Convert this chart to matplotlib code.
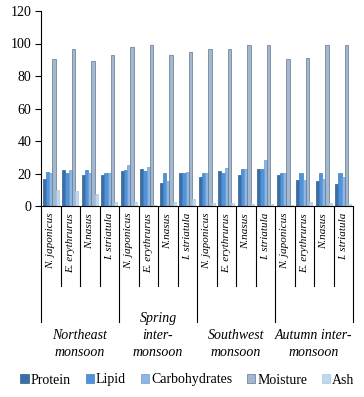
import matplotlib
matplotlib.use("Agg")
import matplotlib.pyplot as plt
from matplotlib.patches import Patch
import matplotlib.transforms as mtransforms
import numpy as np

plt.rcParams['font.family'] = ['Liberation Serif', 'DejaVu Serif']

species = ['N. japonicus', 'E. erythrurus', 'N.nasus', 'I. striatula']
seasons = ['Northeast\nmonsoon', 'Spring\ninter-\nmonsoon',
           'Southwest\nmonsoon', 'Autumn inter-\nmonsoon']
components = ['Protein', 'Lipid', 'Carbohydrates', 'Moisture', 'Ash']

# values per category (season x species), order follows the x axis
protein = [16.4, 22.0, 19.3, 18.9, 21.4, 23.0, 14.0, 20.5,
           18.1, 21.4, 19.3, 22.6, 18.9, 15.8, 15.2, 13.3]
lipid = [21.1, 20.5, 22.0, 20.5, 22.0, 21.4, 20.5, 20.5,
         20.5, 20.5, 22.6, 22.6, 20.5, 20.5, 20.5, 20.5]
carbohydrates = [20.1, 22.0, 20.5, 20.1, 25.0, 24.2, 15.2, 21.1,
                 20.1, 23.6, 23.0, 28.1, 20.1, 15.8, 16.4, 18.1]
moisture = [90.3, 96.9, 89.5, 93.2, 97.7, 99.0, 93.2, 94.9,
            96.9, 96.9, 99.0, 99.0, 90.3, 90.8, 99.0, 99.0]
ash = [9.6, 9.0, 7.2, 2.7, 2.5, 0.5, 2.5, 4.1,
       2.0, 2.0, 1.2, 1.0, 0.5, 2.5, 1.6, 1.0]

series = [protein, lipid, carbohydrates, moisture, ash]
fills = ['#3a6ea5', '#4f93da', '#8db6e4', '#a3b7cf', '#c0d8ef']
edges = ['#2f5d8c', '#3f7fc2', '#6f9ccc', '#5f7690', '#a9c6e2']

fig = plt.figure(figsize=(3.64, 3.97), dpi=100)
ax = fig.add_axes([41 / 364, 1 - 206 / 397, 312 / 364, 195 / 397])

n = len(protein)
x = np.arange(n)
w = 0.167
for i, (vals, fc, ec) in enumerate(zip(series, fills, edges)):
    ax.bar(x + (i - 2) * w, vals, width=w, color=fc, edgecolor=ec,
           linewidth=0.5, label=components[i])

ax.set_xlim(-0.5, n - 0.5)
ax.set_ylim(0, 120)
ax.set_yticks(range(0, 121, 20))
ax.tick_params(axis='y', direction='out', length=4, width=0.8, labelsize=10, pad=3)
ax.set_xticks([])
for s in ['top', 'right']:
    ax.spines[s].set_visible(False)
for s in ['left', 'bottom']:
    ax.spines[s].set_linewidth(0.8)
    ax.spines[s].set_color('black')

trans = mtransforms.blended_transform_factory(ax.transData, ax.transAxes)

# multi-level category axis
for k in range(n + 1):
    xb = k - 0.5
    low = -0.595 if k % 4 == 0 else -0.41
    ax.plot([xb, xb], [0, low], color='black', linewidth=0.8,
            transform=trans, clip_on=False)

for k in range(n):
    ax.text(k, -0.035, species[k % 4], rotation=90, ha='center', va='top',
            style='italic', fontsize=8, transform=trans)

for g, name in enumerate(seasons):
    ax.text(g * 4 + 1.5, -0.785, name, ha='center', va='bottom',
            style='italic', fontsize=10, linespacing=1.4, transform=trans)

handles = [Patch(facecolor=fc, edgecolor=ec, linewidth=0.5)
           for fc, ec in zip(fills, edges)]
fig.legend(handles, components, loc='center', bbox_to_anchor=(0.515, 1 - 380 / 397),
           ncol=5, frameon=False, fontsize=10, handlelength=0.6, handleheight=0.6,
           handletextpad=0.15, columnspacing=1.05, borderaxespad=0)

fig.savefig('out.png', dpi=100)
